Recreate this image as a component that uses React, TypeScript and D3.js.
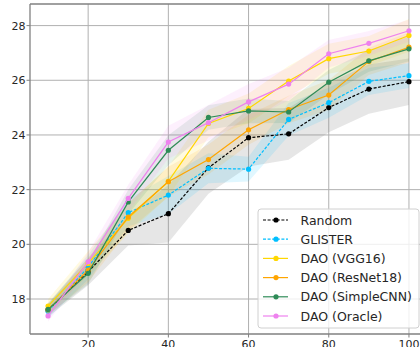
import React, { useEffect, useRef } from "react";
import * as d3 from "d3";

// fraction of data (%) on x
const budgets = [10, 20, 30, 40, 50, 60, 70, 80, 90, 100];

const seriesNames = [
  "Random",
  "GLISTER",
  "DAO (VGG16)",
  "DAO (ResNet18)",
  "DAO (SimpleCNN)",
  "DAO (Oracle)",
];

const randomAcc = [17.6, 19.0, 20.51, 21.12, 22.8, 23.9, 24.04, 25.0, 25.68, 25.95];
const glisterAcc = [17.55, 19.16, 21.16, 21.8, 22.78, 22.75, 24.57, 25.18, 25.96, 26.17];
const vggAcc = [17.74, 19.3, 20.95, 22.3, 24.42, 24.97, 25.97, 26.79, 27.07, 27.64];
const resnetAcc = [17.6, 19.06, 21.0, 22.29, 23.1, 24.19, 24.93, 25.46, 26.69, 27.21];
const simpleAcc = [17.62, 18.94, 21.55, 23.44, 24.64, 24.88, 24.84, 25.93, 26.71, 27.15];
const oracleAcc = [17.38, 19.36, 21.68, 23.74, 24.45, 25.21, 25.86, 26.97, 27.35, 27.81];

// std of each run set, drawn as the shaded band
const randomStd = [0.25, 0.5, 0.55, 1.05, 0.95, 1.05, 0.95, 0.9, 0.9, 0.85];
const glisterStd = [0.25, 0.45, 0.5, 0.7, 0.55, 0.45, 0.6, 0.55, 0.5, 0.45];
const vggStd = [0.25, 0.45, 0.55, 0.55, 0.5, 0.55, 0.55, 0.55, 0.55, 0.6];
const resnetStd = [0.2, 0.45, 0.5, 0.55, 0.55, 0.55, 0.5, 0.55, 0.5, 0.55];
const simpleStd = [0.2, 0.4, 0.45, 0.55, 0.45, 0.45, 0.4, 0.45, 0.4, 0.45];
const oracleStd = [0.2, 0.35, 0.5, 0.6, 0.65, 0.65, 0.6, 0.5, 0.45, 0.4];

const xTicks = [20, 40, 60, 80, 100];
const yTicks = [18, 20, 22, 24, 26, 28];

const colors = ["#000000", "#00bfff", "#ffd700", "#ffa500", "#2e8b57", "#ee82ee"];
const bandColors = ["#808080", "#00bfff", "#ffd700", "#ffa500", "#2e8b57", "#ee82ee"];
const dashed = [true, true, false, false, false, false];

const W = 420;
const H = 347;

const App = () => {
  const ref = useRef(null);

  useEffect(() => {
    if (ref.current) drawChart(ref.current);
  }, []);

  return (
    <svg
      ref={ref}
      width={W}
      height={H}
      style={{ position: "absolute", left: 0, top: 0, background: "#fff" }}
    />
  );
};

function drawChart(node) {
  const svg = d3.select(node);
  svg.selectAll("*").remove();

  const left = 30;
  const right = 427;
  const top = 4;
  const bottom = 334;

  const x = d3.scaleLinear().domain([5.5, 104.5]).range([left, right]);
  const y = d3.scaleLinear().domain([16.72, 28.79]).range([bottom, top]);

  const means = [randomAcc, glisterAcc, vggAcc, resnetAcc, simpleAcc, oracleAcc];
  const stds = [randomStd, glisterStd, vggStd, resnetStd, simpleStd, oracleStd];

  const font = "DejaVu Sans, sans-serif";

  // grid
  svg
    .append("g")
    .selectAll("line")
    .data(xTicks)
    .enter()
    .append("line")
    .attr("x1", (d) => x(d))
    .attr("x2", (d) => x(d))
    .attr("y1", top)
    .attr("y2", bottom)
    .attr("stroke", "#b0b0b0")
    .attr("stroke-width", 1);

  svg
    .append("g")
    .selectAll("line")
    .data(yTicks)
    .enter()
    .append("line")
    .attr("x1", left)
    .attr("x2", right)
    .attr("y1", (d) => y(d))
    .attr("y2", (d) => y(d))
    .attr("stroke", "#b0b0b0")
    .attr("stroke-width", 1);

  // bands
  const area = d3
    .area()
    .x((d) => x(d[0]))
    .y0((d) => y(d[1] - d[2]))
    .y1((d) => y(d[1] + d[2]));

  means.forEach((m, i) => {
    const pts = budgets.map((b, j) => [b, m[j], stds[i][j]]);
    svg
      .append("path")
      .datum(pts)
      .attr("fill", bandColors[i])
      .attr("fill-opacity", i === 0 ? 0.2 : 0.12)
      .attr("d", area);
  });

  // lines + markers
  const line = d3
    .line()
    .x((d) => x(d[0]))
    .y((d) => y(d[1]));

  means.forEach((m, i) => {
    const pts = budgets.map((b, j) => [b, m[j]]);
    svg
      .append("path")
      .datum(pts)
      .attr("fill", "none")
      .attr("stroke", colors[i])
      .attr("stroke-width", 1.2)
      .attr("stroke-dasharray", dashed[i] ? "3,1.6" : null)
      .attr("d", line);
    svg
      .append("g")
      .selectAll("circle")
      .data(pts)
      .enter()
      .append("circle")
      .attr("cx", (d) => x(d[0]))
      .attr("cy", (d) => y(d[1]))
      .attr("r", 2.6)
      .attr("fill", colors[i]);
  });

  // spines
  const spine = "#808080";
  svg.append("line").attr("x1", left).attr("x2", left).attr("y1", top).attr("y2", bottom).attr("stroke", spine).attr("stroke-width", 1.3);
  svg.append("line").attr("x1", left).attr("x2", right).attr("y1", bottom).attr("y2", bottom).attr("stroke", spine).attr("stroke-width", 1.3);
  svg.append("line").attr("x1", left).attr("x2", right).attr("y1", top).attr("y2", top).attr("stroke", spine).attr("stroke-width", 1.3);

  // ticks
  const xt = svg.append("g");
  xTicks.forEach((t) => {
    xt.append("line").attr("x1", x(t)).attr("x2", x(t)).attr("y1", bottom).attr("y2", bottom + 3.5).attr("stroke", spine);
    xt.append("text")
      .attr("x", x(t))
      .attr("y", bottom + 13.5)
      .attr("text-anchor", "middle")
      .attr("font-family", font)
      .attr("font-size", 11)
      .attr("fill", "#262626")
      .text(t);
  });
  const yt = svg.append("g");
  yTicks.forEach((t) => {
    yt.append("line").attr("x1", left - 3.5).attr("x2", left).attr("y1", y(t)).attr("y2", y(t)).attr("stroke", spine);
    yt.append("text")
      .attr("x", left - 4.5)
      .attr("y", y(t))
      .attr("dy", "0.36em")
      .attr("text-anchor", "end")
      .attr("font-family", font)
      .attr("font-size", 11)
      .attr("fill", "#262626")
      .text(t);
  });

  // legend
  const lg = svg.append("g").attr("transform", "translate(258,209)");
  lg.append("rect")
    .attr("width", 161)
    .attr("height", 119)
    .attr("rx", 3)
    .attr("fill", "#fff")
    .attr("fill-opacity", 0.8)
    .attr("stroke", "#d0d0d0")
    .attr("stroke-width", 1);
  seriesNames.forEach((name, i) => {
    const cy = 11 + i * 19.2;
    lg.append("line")
      .attr("x1", 5)
      .attr("x2", 30)
      .attr("y1", cy)
      .attr("y2", cy)
      .attr("stroke", colors[i])
      .attr("stroke-width", 1.2)
      .attr("stroke-dasharray", dashed[i] ? "3,1.6" : null);
    lg.append("circle").attr("cx", 18).attr("cy", cy).attr("r", 2.6).attr("fill", colors[i]);
    lg.append("text")
      .attr("x", 42.5)
      .attr("y", cy)
      .attr("dy", "0.36em")
      .attr("font-family", font)
      .attr("font-size", 12.5)
      .attr("fill", "#262626")
      .text(name);
  });
}

export default App;
